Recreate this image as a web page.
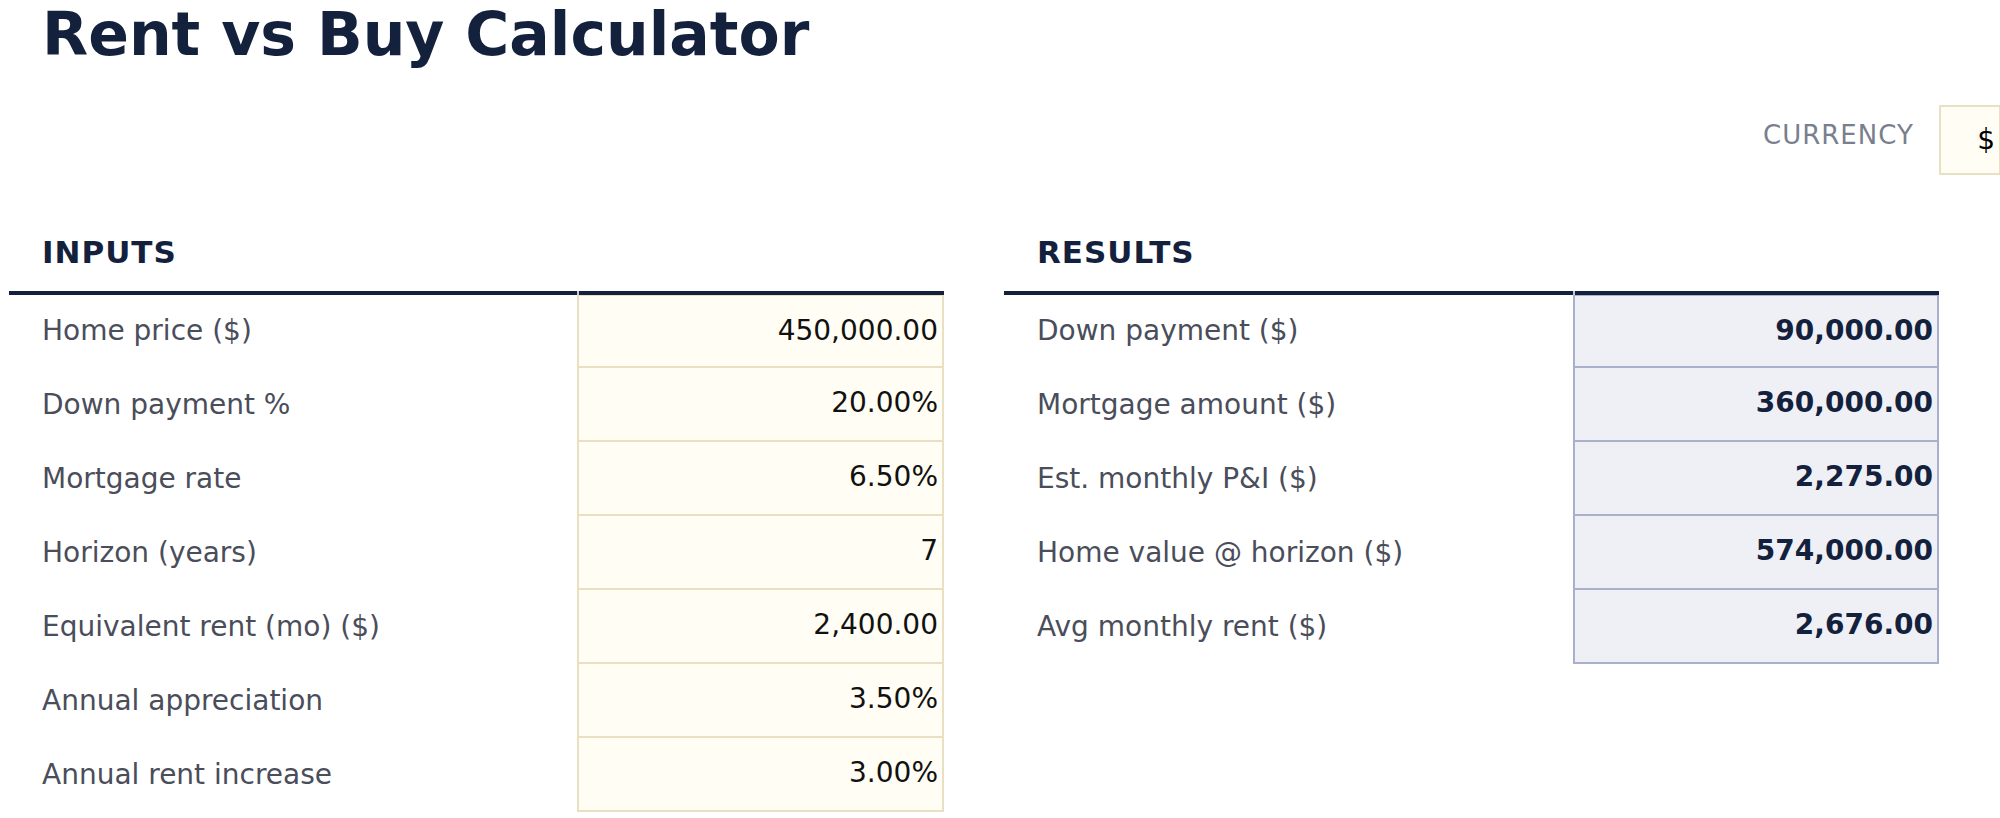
<!DOCTYPE html>
<html>
<head>
<meta charset="utf-8">
<script src="https://cdn.jsdelivr.net/npm/chart.js@4"></script>
<style>
  body { margin: 0; width: 2000px; height: 818px; background: #fff; font-family: "DejaVu Sans", sans-serif; position: relative; overflow: hidden; }
  .abs { position: absolute; }
  h1 { position: absolute; left: 42px; top: -2px; margin: 0; font-size: 60px; color: #14213d; font-weight: bold; line-height: 72px; }
  .hdr { font-size: 31px; font-weight: bold; color: #14213d; letter-spacing: 1px; }
  .lbl { font-size: 28px; color: #4a4d5a; line-height: 74px; }
  .val { font-size: 28px; line-height: 74px; text-align: right; box-sizing: border-box; padding-right: 4px; }
  .inp { background: #fffdf4; border: 2px solid #e9e0c3; color: #111; }
  .res { background: #eef0f6; border: 2px solid #a9b1ca; color: #14213d; font-weight: bold; }
</style>
</head>
<body>
<h1>Rent vs Buy Calculator</h1>
<div class="abs" style="left:1763px;top:120px;font-size:26px;color:#7a7f8e;letter-spacing:1px">CURRENCY</div>
<div class="abs" style="left:1939px;top:105px;width:62px;height:70px;box-sizing:border-box;background:#fffdf4;border:2px solid #e9e0c3;font-size:28px;line-height:66px;text-align:right;padding-right:4px">$</div>
<div id="root"></div>
<script>
// table contents
const inputLabels = ["Home price ($)", "Down payment %", "Mortgage rate", "Horizon (years)", "Equivalent rent (mo) ($)", "Annual appreciation", "Annual rent increase"];
const inputValues = ["450,000.00", "20.00%", "6.50%", "7", "2,400.00", "3.50%", "3.00%"];
const resultLabels = ["Down payment ($)", "Mortgage amount ($)", "Est. monthly P&I ($)", "Home value @ horizon ($)", "Avg monthly rent ($)"];
const resultValues = ["90,000.00", "360,000.00", "2,275.00", "574,000.00", "2,676.00"];

const root = document.getElementById("root");
const ROW_H = 74, TOP = 294;

function el(cls, style, text) {
  const d = document.createElement("div");
  d.className = "abs " + cls;
  d.style.cssText = style;
  d.textContent = text;
  root.appendChild(d);
  return d;
}

function buildTable(title, labels, values, x0, xSplit, x1, textX, cellCls) {
  el("hdr", `left:${textX}px;top:234px`, title);
  labels.forEach((lab, i) => {
    const y = TOP + i * ROW_H;
    el("lbl", `left:${textX}px;top:${y}px`, lab);
    el("val " + cellCls, `left:${xSplit}px;top:${y - (i ? 2 : 0)}px;width:${x1 - xSplit}px;height:${ROW_H + (i ? 2 : 0)}px;line-height:${ROW_H - 4}px`, values[i]);
  });
  el("", `left:${x0}px;top:291px;width:${x1 - x0}px;height:4px;background:#14213d`, "");
  el("", `left:${xSplit}px;top:291px;width:2px;height:4px;background:#c8cbd6`, "");
}

buildTable("INPUTS", inputLabels, inputValues, 9, 577, 944, 42, "inp");
buildTable("RESULTS", resultLabels, resultValues, 1004, 1573, 1939, 1037, "res");
</script>
</body>
</html>
